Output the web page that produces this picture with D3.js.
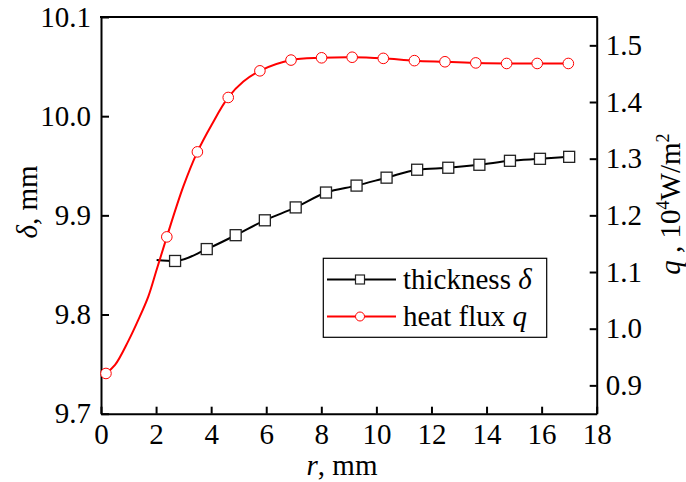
<!DOCTYPE html>
<meta charset="utf-8">
<style>
body { margin: 0; background: #fff; }
svg text, .axis text { font-family: "Liberation Serif", Tinos, "Times New Roman", "DejaVu Serif", serif; }
.axis text { font-size: 29px; fill: #000; }
.axis line, .axis path { stroke: #000; stroke-width: 2; }
</style>
<body>
<script src="https://d3js.org/d3.v7.min.js"></script>
<script>

// thickness delta (mm) vs r (mm)
var thickR   = [2.02, 2.69, 3.84, 4.89, 5.95, 7.07, 8.17, 9.28, 10.37, 11.48, 12.61, 13.74, 14.85, 15.94, 17.0];
var thickVal = [9.855, 9.854, 9.866, 9.880, 9.895, 9.908, 9.923, 9.930, 9.938, 9.946, 9.948, 9.951, 9.955, 9.957, 9.959];
var thickMarkR   = thickR.slice(1);
var thickMarkVal = thickVal.slice(1);

// heat flux q (10^4 W/m^2) vs r (mm), line points
var fluxR   = [0.18, 0.51, 0.99, 1.35, 1.72, 2.02, 2.39, 2.99, 3.50, 4.02, 4.62, 5.17, 5.77, 6.90, 8.01, 9.12, 10.25, 11.38, 12.49, 13.61, 14.73, 15.84, 16.97];
var fluxVal = [0.921, 0.936, 0.978, 1.015, 1.057, 1.104, 1.162, 1.251, 1.312, 1.360, 1.408, 1.436, 1.455, 1.474, 1.478, 1.479, 1.477, 1.473, 1.471, 1.469, 1.468, 1.468, 1.468];
// markers sit on these
var fluxMarkR   = [0.18, 2.39, 3.50, 4.62, 5.77, 6.90, 8.01, 9.12, 10.25, 11.38, 12.49, 13.61, 14.73, 15.84, 16.97];
var fluxMarkVal = [0.921, 1.162, 1.312, 1.408, 1.455, 1.474, 1.478, 1.479, 1.477, 1.473, 1.471, 1.469, 1.468, 1.468, 1.468];

var xTicks  = [0, 2, 4, 6, 8, 10, 12, 14, 16, 18];
var yLTicks = [9.7, 9.8, 9.9, 10.0, 10.1];
var yRTicks = [0.9, 1.0, 1.1, 1.2, 1.3, 1.4, 1.5];

var W = 686, H = 482;
var pLeft = 101, pRight = 596.7, pTop = 17, pBottom = 413.7;

var svg = d3.select("body").append("svg")
    .attr("width", W)
    .attr("height", H);

var x  = d3.scaleLinear().domain([0, 18]).range([pLeft, pRight]);
var yL = d3.scaleLinear().domain([9.7, 10.1]).range([pBottom, pTop]);
var yR = d3.scaleLinear().domain([0.85, 1.55]).range([pBottom, pTop]);

// axes, ticks pointing inward
svg.append("g")
    .attr("class", "axis")
    .attr("transform", "translate(0," + pBottom + ")")
    .call(d3.axisBottom(x).tickValues(xTicks).tickFormat(d3.format("d"))
      .tickSizeInner(-7).tickSizeOuter(0).tickPadding(10));

svg.append("g")
    .attr("class", "axis")
    .attr("transform", "translate(" + pLeft + ",0)")
    .call(d3.axisLeft(yL).tickValues(yLTicks).tickFormat(d3.format(".1f"))
      .tickSizeInner(-8).tickSizeOuter(0).tickPadding(10));

svg.append("g")
    .attr("class", "axis")
    .attr("transform", "translate(" + pRight + ",0)")
    .call(d3.axisRight(yR).tickValues(yRTicks).tickFormat(d3.format(".1f"))
      .tickSizeInner(-7).tickSizeOuter(0).tickPadding(9));

// top border
svg.append("line")
    .attr("x1", pLeft - 1).attr("x2", pRight + 1)
    .attr("y1", pTop).attr("y2", pTop)
    .attr("stroke", "#000").attr("stroke-width", 2);

// lines
var thickLine = d3.line()
    .x(function(d) { return x(thickR[d]); })
    .y(function(d) { return yL(thickVal[d]); })
    .curve(d3.curveMonotoneX);

var fluxLine = d3.line()
    .x(function(d) { return x(fluxR[d]); })
    .y(function(d) { return yR(fluxVal[d]); })
    .curve(d3.curveCatmullRom.alpha(0.5));

svg.append("path")
    .attr("d", thickLine(d3.range(thickR.length)))
    .attr("fill", "none").attr("stroke", "#000").attr("stroke-width", 2);

svg.append("path")
    .attr("d", fluxLine(d3.range(fluxR.length)))
    .attr("fill", "none").attr("stroke", "#ff0000").attr("stroke-width", 2);

// markers
var sq = 11;
svg.selectAll(".sq")
    .data(d3.range(thickMarkR.length))
  .enter().append("rect")
    .attr("class", "sq")
    .attr("x", function(d) { return x(thickMarkR[d]) - sq / 2; })
    .attr("y", function(d) { return yL(thickMarkVal[d]) - sq / 2; })
    .attr("width", sq).attr("height", sq)
    .attr("fill", "#fff").attr("stroke", "#222").attr("stroke-width", 1.3);

svg.selectAll(".ci")
    .data(d3.range(fluxMarkR.length))
  .enter().append("circle")
    .attr("class", "ci")
    .attr("cx", function(d) { return x(fluxMarkR[d]); })
    .attr("cy", function(d) { return yR(fluxMarkVal[d]); })
    .attr("r", 5.3)
    .attr("fill", "#fff").attr("stroke", "#ff0000").attr("stroke-width", 1);

// axis titles
var lt = svg.append("text")
    .attr("transform", "translate(37,202) rotate(-90)")
    .attr("text-anchor", "middle")
    .attr("font-size", 29);
lt.append("tspan").attr("font-style", "italic").text("δ");
lt.append("tspan").text(", mm");

var rt = svg.append("text")
    .attr("transform", "translate(680,204) rotate(-90)")
    .attr("text-anchor", "middle")
    .attr("font-size", 29);
rt.append("tspan").attr("font-style", "italic").text("q");
rt.append("tspan").text(" , 10");
rt.append("tspan").attr("font-size", 18).attr("dy", -11).text("4");
rt.append("tspan").attr("dy", 11).text("W/m");
rt.append("tspan").attr("font-size", 18).attr("dy", -11).text("2");

var xt = svg.append("text")
    .attr("x", 342).attr("y", 475)
    .attr("text-anchor", "middle")
    .attr("font-size", 29);
xt.append("tspan").attr("font-style", "italic").text("r");
xt.append("tspan").text(", mm");

// legend
var lg = svg.append("g");
lg.append("rect")
    .attr("x", 323.3).attr("y", 258.3)
    .attr("width", 223.4).attr("height", 79)
    .attr("fill", "#fff").attr("stroke", "#000").attr("stroke-width", 1.2);

lg.append("line")
    .attr("x1", 327).attr("x2", 396).attr("y1", 279.5).attr("y2", 279.5)
    .attr("stroke", "#000").attr("stroke-width", 2);
lg.append("rect")
    .attr("x", 355.5).attr("y", 275).attr("width", 9).attr("height", 9)
    .attr("fill", "#fff").attr("stroke", "#222").attr("stroke-width", 1.2);
var l1 = lg.append("text").attr("x", 403).attr("y", 288.5).attr("font-size", 29);
l1.append("tspan").text("thickness ");
l1.append("tspan").attr("font-style", "italic").text("δ");

lg.append("line")
    .attr("x1", 327).attr("x2", 396).attr("y1", 316.5).attr("y2", 316.5)
    .attr("stroke", "#ff0000").attr("stroke-width", 2);
lg.append("circle")
    .attr("cx", 360).attr("cy", 316.5).attr("r", 4.5)
    .attr("fill", "#fff").attr("stroke", "#ff0000").attr("stroke-width", 1);
var l2 = lg.append("text").attr("x", 403).attr("y", 326).attr("font-size", 29);
l2.append("tspan").text("heat flux ");
l2.append("tspan").attr("font-style", "italic").text("q");

</script>
</body>
